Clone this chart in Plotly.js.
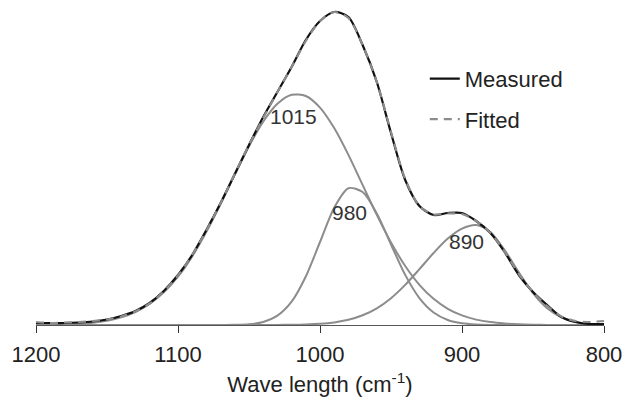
<!DOCTYPE html>
<html>
<head>
<meta charset="utf-8">
<script src="https://cdn.plot.ly/plotly-3.0.1.min.js"></script>
<style>html,body{margin:0;padding:0;background:#fff;}#chart{width:625px;height:405px;}</style>
</head>
<body>
<div id="chart"></div>
<script>
// Wavenumber (cm-1), 1200 -> 800
const wavenumber = [1200,1190,1180,1170,1160,1150,1140,1130,1120,1110,1100,1090,1080,1070,1060,1050,1040,1030,1020,1010,1000,990,980,970,960,950,940,930,920,910,900,890,880,870,860,850,840,830,820,810,800];

const measured = [2,2,2,2.5,3.5,5.5,9,14,22,34,50,70,95,122,151,180,208,233,258,285,304,313,308,280,243,192,145,119,110,112,112,104,92,73,50,33,20,8,3,1,1];

const fitted = [3,2,2.5,3,4,5.5,8.5,13.5,21.5,33.5,49.5,70,94.5,122,151,180,207,233,258,284,304,313,307,280,243,193,146,119,110.5,111.5,111,104,92,73.5,51,33,19,8.5,4,3,4];

const band1015 = [0.1,0.3,0.6,1.2,2.3,4.3,7.6,13.0,21.0,32.6,48.3,68.6,93.2,121,150.4,178.8,203.3,221.2,230.2,229,217.4,196.9,170.1,140.1,110.1,82.5,59,40.2,26.2,16.2,9.6,5.4,2.9,1.5,0.7,0.3,0.1,0,0,0,0];

const band980 = [0,0,0,0,0,0,0,0,0,0,0,0,0,0,0.2,0.8,3.0,9.3,23.3,48.5,83,117.3,136.8,133,111.4,80.5,50.1,26.9,12.5,5,1.7,0.5,0.1,0,0,0,0,0,0,0,0];

const band890 = [0,0,0,0,0,0,0,0,0,0,0,0,0,0,0,0,0,0.1,0.2,0.5,1.2,2.6,5.2,9.7,16.7,26.8,40.1,55.8,72,86.4,96.4,100,93,75,52.7,32,16.8,7.7,3,1,0.3];

const bandLabels = ["1015","980","890"];
const bandLabelX = [1019,979,896.5];
const bandLabelY = [209,113,84];

const seriesNames = ["Measured","Fitted"];
const xTicks = [1200,1100,1000,900,800];

const FONT = "Arial, 'Liberation Sans', sans-serif";
const compStyle = {color:"#8c8c8c", width:2, shape:"spline", smoothing:0.8};

const traces = [
  {x:wavenumber, y:band1015, mode:"lines", line:compStyle, showlegend:false, hoverinfo:"skip"},
  {x:wavenumber, y:band980, mode:"lines", line:compStyle, showlegend:false, hoverinfo:"skip"},
  {x:wavenumber, y:band890, mode:"lines", line:compStyle, showlegend:false, hoverinfo:"skip"},
  {x:wavenumber, y:measured, mode:"lines", name:seriesNames[0], legendgroup:"m",
   line:{color:"#111111", width:2.2, shape:"spline", smoothing:0.8}},
  {x:wavenumber, y:fitted, mode:"lines", name:seriesNames[1], legendgroup:"f",
   line:{color:"#8c8c8c", width:2.2, dash:"8px,6px", shape:"spline", smoothing:0.8}}
];

const annotations = bandLabels.map((t,i)=>({
  x:bandLabelX[i], y:bandLabelY[i], xref:"x", yref:"y", text:t, showarrow:false,
  font:{family:FONT, size:21, color:"#333333"}
}));

const layout = {
  width:625, height:405,
  margin:{l:36, r:21, t:5, b:80},
  paper_bgcolor:"#ffffff", plot_bgcolor:"#ffffff",
  font:{family:FONT, size:22, color:"#222222"},
  xaxis:{
    range:[1200,800], tickvals:xTicks, ticktext:xTicks.map(String),
    showline:true, linecolor:"#555555", linewidth:1,
    ticks:"outside", ticklen:7, tickcolor:"#333333", tickwidth:1,
    ticklabelstandoff:3,
    showgrid:false, zeroline:false,
    tickfont:{family:FONT, size:22, color:"#222222"},
    title:{text:"Wave length (cm<sup>-1</sup>)", font:{family:FONT, size:22, color:"#222222"}, standoff:10}
  },
  yaxis:{range:[0,320], visible:false, fixedrange:true},
  showlegend:true,
  legend:{x:0.6845, y:0.835, xanchor:"left", yanchor:"top", bgcolor:"rgba(0,0,0,0)",
    traceorder:"grouped", tracegroupgap:9, font:{family:FONT, size:22, color:"#222222"}},
  annotations:annotations
};

Plotly.newPlot("chart", traces, layout, {displayModeBar:false, staticPlot:true});
</script>
</body>
</html>
